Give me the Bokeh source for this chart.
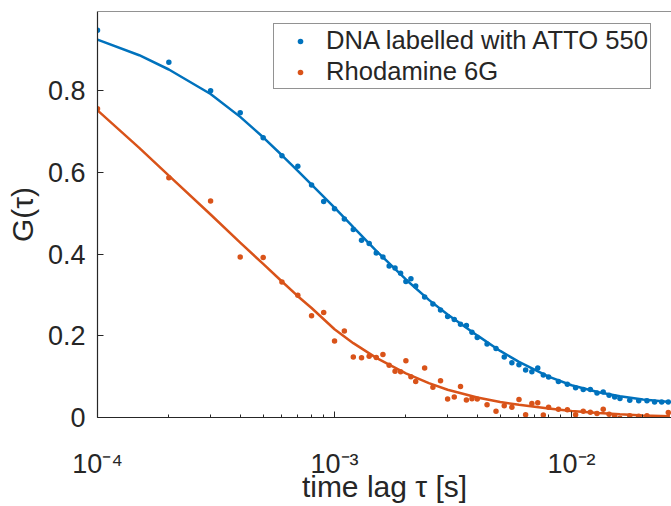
from bokeh.plotting import figure
from bokeh.models import (FixedTicker, Legend, LegendItem, Range1d,
                          CustomJSTickFormatter, Span)
from bokeh.embed import file_html
from bokeh.resources import INLINE

# ---------------- data ----------------
tau = [0.0001, 0.0002, 0.0003, 0.0004, 0.0005, 0.0006, 0.0007, 0.0008, 0.0009, 0.0010,
       0.0011, 0.0012, 0.0013, 0.0014, 0.0015, 0.0016, 0.0017, 0.0018, 0.0019, 0.0020,
       0.0021, 0.0022,
       0.0024, 0.0026, 0.0028, 0.0030, 0.0032, 0.0034, 0.0036, 0.0038, 0.0040,
       0.0044, 0.0048, 0.0052, 0.0056, 0.0060, 0.0064, 0.0068, 0.0072, 0.0076, 0.0080,
       0.0088, 0.0096, 0.0104, 0.0112, 0.0120, 0.0128, 0.0136, 0.0144, 0.0152, 0.0160,
       0.0176, 0.0192, 0.0208, 0.0224, 0.0240, 0.0256]

g_dna = [0.948, 0.870, 0.800, 0.746, 0.685, 0.641, 0.615, 0.569, 0.529, 0.511,
         0.486, 0.460, 0.434, 0.426, 0.403, 0.393, 0.371, 0.366, 0.353, 0.333,
         0.340, 0.322,
         0.295, 0.278, 0.263, 0.247, 0.240, 0.228, 0.225, 0.209, 0.196,
         0.180, 0.169, 0.148, 0.134, 0.129, 0.116, 0.112, 0.121, 0.104, 0.099,
         0.088, 0.0815, 0.073, 0.0685, 0.0685, 0.060, 0.0627, 0.0546, 0.050, 0.0465,
         0.042, 0.041, 0.041, 0.038, 0.038, 0.038]

g_r6g = [0.756, 0.587, 0.530, 0.393, 0.392, 0.332, 0.299, 0.249, 0.257, 0.187,
         0.212, 0.148, 0.146, 0.150, 0.147, 0.154, 0.128, 0.113, 0.112, 0.139,
         0.100, 0.088,
         0.121, 0.074, 0.090, 0.045, 0.050, 0.076, 0.043, 0.046, 0.045,
         0.031, 0.015, 0.029, 0.025, 0.044, 0.007, 0.034, 0.036, 0.006, 0.025,
         0.020, 0.019, 0.007, 0.015, 0.013, 0.010, 0.020, 0.008, 0.003, -0.002,
         0.004, 0.003, 0.004, -0.001, -0.001, 0.012]

fit_tau = [1e-4, 1.5e-4, 2e-4, 3e-4, 4e-4, 5e-4, 6e-4, 7e-4, 8e-4, 1e-3, 1.2e-3,
           1.5e-3, 2e-3, 2.5e-3, 3e-3, 4e-3, 5e-3, 6e-3, 8e-3, 1e-2, 1.3e-2,
           1.6e-2, 2e-2, 2.6e-2]
fit_dna = [0.925, 0.887, 0.852, 0.792, 0.736, 0.686, 0.642, 0.604, 0.570, 0.514, 0.466,
           0.408, 0.338, 0.288, 0.252, 0.201, 0.163, 0.136, 0.100, 0.079, 0.062,
           0.052, 0.044, 0.038]
fit_r6g = [0.752, 0.660, 0.592, 0.497, 0.428, 0.376, 0.333, 0.297, 0.268, 0.216, 0.182,
           0.146, 0.108, 0.084, 0.068, 0.049, 0.038, 0.031, 0.022, 0.016, 0.011,
           0.008, 0.005, 0.003]

labels = ["DNA labelled with ATTO 550", "Rhodamine 6G"]
x_major = [1e-4, 1e-3, 1e-2]
y_major = [0, 0.2, 0.4, 0.6, 0.8]
x_lim = (1e-4, 0.0264)
y_lim = (0, 0.994)

BLUE = "#0072BD"
ORANGE = "#D95319"
AX = "#262626"
FONT = "Liberation Sans"

x_minor = [k * m for m in (1e-4, 1e-3, 1e-2) for k in range(2, 10)]

p = figure(x_axis_type="log",
           x_range=Range1d(*x_lim), y_range=Range1d(*y_lim),
           width=671, height=506,
           min_border_left=97, min_border_right=0, min_border_top=11, min_border_bottom=89,
           output_backend="svg", toolbar_location=None)
p.outline_line_color = None
p.xgrid.visible = False
p.ygrid.visible = False
p.background_fill_color = "white"
p.border_fill_color = "white"

xa = p.below[0]
ya = p.left[0]
xa.ticker = FixedTicker(ticks=x_major, minor_ticks=x_minor)
ya.ticker = FixedTicker(ticks=y_major)
ya.formatter = CustomJSTickFormatter(
    code="return Math.abs(tick) < 1e-9 ? '0' : tick.toFixed(1);")
xa.formatter = CustomJSTickFormatter(code="""
const sup = {'-': '\u207b', '0': '\u2070', '1': '\u00b9', '2': '\u00b2', '3': '\u00b3',
             '4': '\u2074', '5': '\u2075', '6': '\u2076', '7': '\u2077', '8': '\u2078',
             '9': '\u2079'};
const e = Math.round(Math.log10(tick));
return '10' + String(e).split('').map(c => sup[c]).join('');
""")

for ax in (xa, ya):
    ax.axis_line_color = AX
    ax.axis_line_width = 1.2
    ax.major_tick_line_color = AX
    ax.minor_tick_line_color = AX
    ax.major_tick_in = 6
    ax.major_tick_out = 0
    ax.minor_tick_in = 3
    ax.minor_tick_out = 0
    ax.major_label_text_font = FONT
    ax.major_label_text_font_size = "27px"
    ax.major_label_text_color = AX
    ax.axis_label_text_font = FONT
    ax.axis_label_text_font_size = "30px"
    ax.axis_label_text_font_style = "normal"
    ax.axis_label_text_color = AX
ya.minor_tick_line_color = None
ya.major_label_standoff = 12
xa.major_label_standoff = 31
xa.axis_label = "time lag τ [s]"
ya.axis_label = "G(τ)"
xa.axis_label_standoff = -12
ya.axis_label_standoff = 6

# top edge of the box
p.add_layout(Span(location=y_lim[1], dimension="width", line_color=AX, line_width=1.2))

p.line(fit_tau, fit_dna, line_color=BLUE, line_width=2.5)
p.line(fit_tau, fit_r6g, line_color=ORANGE, line_width=2.5)
r1 = p.scatter(tau, g_dna, marker="circle", size=5.5, fill_color=BLUE, line_color=None)
r2 = p.scatter(tau, g_r6g, marker="circle", size=5.5, fill_color=ORANGE, line_color=None)

legend = Legend(items=[LegendItem(label=labels[0], renderers=[r1]),
                       LegendItem(label=labels[1], renderers=[r2])],
                location=(176, 328), margin=0, padding=2, spacing=2,
                glyph_width=48, glyph_height=14, label_height=29, label_standoff=2,
                label_text_font=FONT, label_text_font_size="25.6px", label_text_color=AX,
                border_line_color=AX, border_line_width=1,
                background_fill_color="white", background_fill_alpha=1.0)
p.add_layout(legend)

open("out.html", "w").write(file_html(p, INLINE))
